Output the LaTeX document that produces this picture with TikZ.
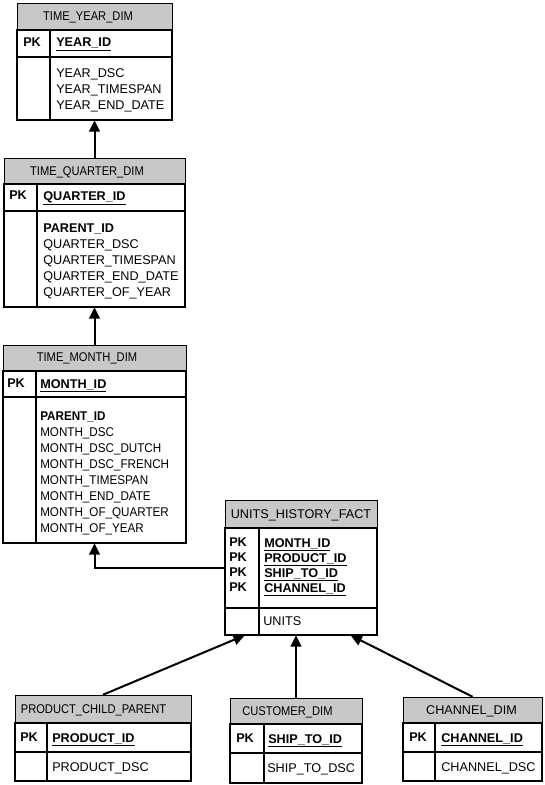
\documentclass[tikz,border=0pt]{standalone}
\usepackage{fontspec}
\setmainfont{Liberation Sans}
\newfontfamily\narrowfont[FakeStretch=0.88]{Liberation Sans}
\newfontfamily\monthfont[FakeStretch=0.92]{Liberation Sans}
\usetikzlibrary{arrows.meta,fit}
\definecolor{hdrgray}{RGB}{200,200,200}
% one table: (name)(left,right,divider)(top,header bottom,key bottom,bottom)
\def\erbox(#1)(#2,#3,#4)(#5,#6,#7,#8){%
	\draw[hdr] (#2,#5) rectangle (#3,#6);
	\draw[tbl] (#2,#6) rectangle (#3,#8);
	\draw[tbl] (#2,#7) -- (#3,#7);
	\draw[tbl] (#4,#6) -- (#4,#8);
	\node[fit={(#2,#5) (#3,#8)}, inner sep=0pt] (#1) {};}
\tikzset{
	hdr/.style={fill=hdrgray, draw=black, line width=0.75pt},
	tbl/.style={draw=black, line width=1.2pt},
	ttl/.style={anchor=base, inner sep=0pt},
	ttlnarrow/.style={ttl, font=\fontsize{9.5}{12}\narrowfont},
	txt/.style={anchor=north west, inner sep=0pt, align=left},
	keys/.style={txt, font=\fontsize{9.5}{11.25}\selectfont},
	arr/.style={line width=1.5pt, -{Triangle[length=8.5pt,width=8pt]}}
}

\begin{document}
\begin{tikzpicture}[x=0.75pt, y=-0.75pt, font=\fontsize{9.5}{12}\selectfont]
			%%%%% START %%%%%
			\useasboundingbox (0,0) rectangle (544,785);
			\fill[white] (0,0) rectangle (544,785);
			
			% TIME_YEAR_DIM
			\erbox(year)(17,172,50)(3,30,57,120)
			\node[ttlnarrow] (yearT) at (88,20.5) {TIME\_YEAR\_DIM};
			\node[txt] (yearPK) at (23,38) {\textbf{PK}};
			\node[txt] (yearKey) at (56,38) {\underline{\textbf{YEAR\_ID}}};
			\node[txt] (yearCols) at (56,68) {YEAR\_DSC\\YEAR\_TIMESPAN\\YEAR\_END\_DATE};
			
			% TIME_QUARTER_DIM
			\erbox(quarter)(4,185,37)(158,184,211,307)
			\node[ttlnarrow] (quarterT) at (87,175.5) {TIME\_QUARTER\_DIM};
			\node[txt] (quarterPK) at (9,191) {\textbf{PK}};
			\node[txt] (quarterKey) at (43,191) {\underline{\textbf{QUARTER\_ID}}};
			\node[txt] (quarterCols) at (43,224) {\textbf{PARENT\_ID}\\QUARTER\_DSC\\QUARTER\_TIMESPAN\\QUARTER\_END\_DATE\\QUARTER\_OF\_YEAR};
			
			% TIME_MONTH_DIM
			\erbox(month)(3,186,36)(345,371,397,543)
			\node[ttlnarrow] (monthT) at (87,361) {TIME\_MONTH\_DIM};
			\node[txt] (monthPK) at (7,379) {\textbf{PK}};
			\node[txt] (monthKey) at (40,379) {\underline{\textbf{MONTH\_ID}}};
			\node[txt, font=\fontsize{9.5}{12}\monthfont] (monthCols) at (40,412) {\textbf{PARENT\_ID}\\MONTH\_DSC\\MONTH\_DSC\_DUTCH\\MONTH\_DSC\_FRENCH\\MONTH\_TIMESPAN\\MONTH\_END\_DATE\\MONTH\_OF\_QUARTER\\MONTH\_OF\_YEAR};
			
			% UNITS_HISTORY_FACT
			\erbox(units)(225,377,259)(500,528,608,635)
			\node[ttl] (unitsT) at (301,518) {UNITS\_HISTORY\_FACT};
			\node[keys] (unitsPK) at (229,538) {\textbf{PK}\\\textbf{PK}\\\textbf{PK}\\\textbf{PK}};
			\node[keys] (unitsKey) at (264,538) {\underline{\textbf{MONTH\_ID}}\\\underline{\textbf{PRODUCT\_ID}}\\\underline{\textbf{SHIP\_TO\_ID}}\\\underline{\textbf{CHANNEL\_ID}}};
			\node[txt] (unitsCols) at (263,616) {UNITS};
			
			% PRODUCT_CHILD_PARENT
			\erbox(product)(15,191,47)(695,723,752,781)
			\node[ttlnarrow] (productT) at (93.5,713.5) {PRODUCT\_CHILD\_PARENT};
			\node[txt] (productPK) at (20,733) {\textbf{PK}};
			\node[txt] (productKey) at (52,733) {\underline{\textbf{PRODUCT\_ID}}};
			\node[txt] (productCols) at (52,762) {PRODUCT\_DSC};
			
			% CUSTOMER_DIM
			\erbox(customer)(230,362,264)(698,724,753,783)
			\node[ttlnarrow] (customerT) at (287.5,715.5) {CUSTOMER\_DIM};
			\node[txt] (customerPK) at (236,734) {\textbf{PK}};
			\node[txt] (customerKey) at (268,734) {\underline{\textbf{SHIP\_TO\_ID}}};
			\node[txt] (customerCols) at (267,763) {SHIP\_TO\_DSC};
			
			% CHANNEL_DIM
			\erbox(channel)(403,542,435)(697,723,752,781)
			\node[ttl] (channelT) at (471.5,714.5) {CHANNEL\_DIM};
			\node[txt] (channelPK) at (409,733) {\textbf{PK}};
			\node[txt] (channelKey) at (441,733) {\underline{\textbf{CHANNEL\_ID}}};
			\node[txt] (channelCols) at (441,762) {CHANNEL\_DSC};
			
			% references
			\draw[arr] (quarter.north) -- (year.south);
			\draw[arr] (month.north) -- (quarter.south);
			\draw[arr] (units.west) -| (month.south);
			\draw[arr] (product.north) -- ([xshift=15pt]units.south west);
			\draw[arr] (customer.north) -- (customer.north |- units.south);
			\draw[arr] (channel.north) -- ([xshift=-20pt]units.south east);
			
			%%%%% END %%%%%
\end{tikzpicture}
\end{document}
